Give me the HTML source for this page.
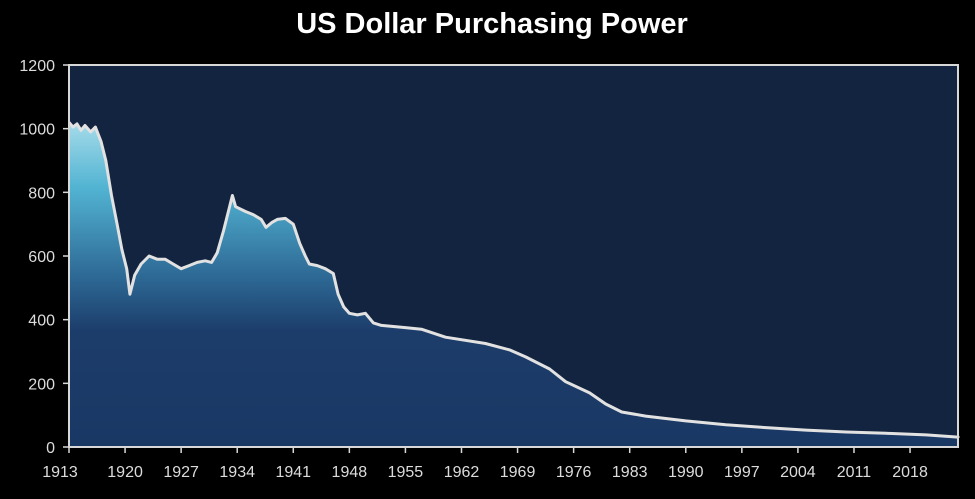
<!DOCTYPE html>
<html><head><meta charset="utf-8"><style>
html,body{margin:0;padding:0;background:#000;width:975px;height:499px;overflow:hidden}
svg{display:block}
text{font-family:"Liberation Sans",sans-serif}
</style></head><body>
<svg id="s" width="975" height="499" xmlns="http://www.w3.org/2000/svg">
<defs>
<linearGradient id="g" x1="0" y1="65" x2="0" y2="447" gradientUnits="userSpaceOnUse">
<stop offset="0.12" stop-color="#b4e2ee"/>
<stop offset="0.32" stop-color="#52b4d2"/>
<stop offset="0.55" stop-color="#2e6a96"/>
<stop offset="0.7" stop-color="#1c3c6a"/>
<stop offset="1" stop-color="#1a3864"/>
</linearGradient>
</defs>
<text x="492" y="33" text-anchor="middle" fill="#fff" font-size="29" font-weight="bold">US Dollar Purchasing Power</text>
<rect x="69" y="65" width="889" height="382" fill="#12243f"/>
<g id="plot"></g>
<rect x="69" y="65" width="889" height="382" fill="none" stroke="#d8d8d8" stroke-width="2"/>
<g id="ax" fill="#dcdcdc" font-size="16"></g>
</svg>
<script>
var d=[[1913,1020],[1913.5,1005],[1914,1015],[1914.5,995],[1915,1010],[1915.7,990],[1916.3,1005],[1917,960],[1917.6,900],[1918.3,790],[1919,700],[1919.6,620],[1920.2,560],[1920.6,480],[1921.2,540],[1922,575],[1923,600],[1924,590],[1925,590],[1926,575],[1927,560],[1928,570],[1929,580],[1930,585],[1930.8,580],[1931.5,610],[1932.3,680],[1933,750],[1933.4,790],[1933.8,755],[1935,740],[1936,730],[1937,715],[1937.6,690],[1938.3,705],[1939,715],[1940,718],[1941,700],[1941.8,640],[1942.5,600],[1943,575],[1944,570],[1945,560],[1946,545],[1946.6,480],[1947.3,440],[1948,420],[1949,415],[1950,420],[1951,390],[1952,382],[1955,375],[1957,370],[1960,345],[1965,325],[1968,305],[1970,283],[1973,245],[1975,205],[1978,170],[1980,135],[1982,110],[1985,97],[1990,82],[1995,70],[2000,61],[2005,53],[2010,47],[2015,43],[2020,38],[2024,31]];
function X(y){return 69+(y-1913)*8.01}
function Y(v){return 447-v*382/1200}
var p=d.map(function(q,i){return(i?'L':'M')+X(q[0]).toFixed(1)+' '+Y(q[1]).toFixed(1)}).join(' ');
var ns='http://www.w3.org/2000/svg',g=document.getElementById('plot');
var a=document.createElementNS(ns,'path');a.setAttribute('d',p+' L958 '+Y(31)+' L958 447 L69 447 Z');a.setAttribute('fill','url(#g)');g.appendChild(a);
var l=document.createElementNS(ns,'path');l.setAttribute('d',p+' L958 '+Y(30));l.setAttribute('fill','none');l.setAttribute('stroke','#e2e2e2');l.setAttribute('stroke-width','3');l.setAttribute('stroke-linejoin','round');g.appendChild(l);
var ax=document.getElementById('ax'),h='';
for(var v=0;v<=1200;v+=200){var y=Y(v);h+='<line x1="63" x2="69" y1="'+y+'" y2="'+y+'" stroke="#d8d8d8" stroke-width="1.5"/><text x="55" y="'+(y+6)+'" text-anchor="end">'+v+'</text>';}
for(var yr=1913;yr<=2018;yr+=7){var x=X(yr);h+='<line x1="'+x+'" x2="'+x+'" y1="447" y2="453" stroke="#d8d8d8" stroke-width="1.5"/><text x="'+(yr==1913?60:x)+'" y="477" text-anchor="middle">'+yr+'</text>';}
ax.innerHTML=h;
</script>
</body></html>
